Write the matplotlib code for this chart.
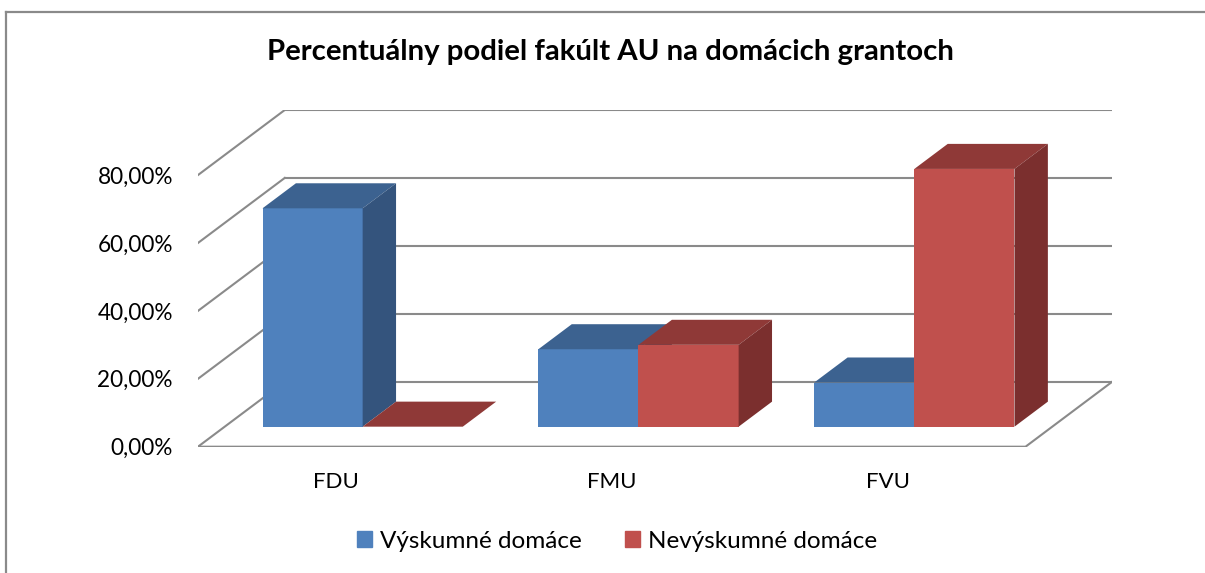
import matplotlib.pyplot as plt
from matplotlib.patches import Polygon, Patch
from matplotlib.lines import Line2D

plt.rcParams['font.family'] = ['Lato', 'DejaVu Sans']

categories = ["FDU", "FMU", "FVU"]
vyskumne = [64.3, 22.8, 13.0]
nevyskumne = [0.0, 24.1, 75.9]
series_names = ["Výskumné domáce", "Nevýskumné domáce"]
y_ticks = [0, 20, 40, 60, 80]
y_tick_labels = ["0,00%", "20,00%", "40,00%", "60,00%", "80,00%"]
title = "Percentuálny podiel fakúlt AU na domácich grantoch"

# oblique "3D" look: shift for the full depth of the floor (x in category units, y in %)
DX, DY = 0.3145, 19.15
BAR_W = 0.363
BAR_FRONT = 0.308
BAR_DEPTH = 0.385
GRID = "#8a8a8a"

colors = [
    ("#4F81BD", "#3C6290", "#34547D"),
    ("#C0504D", "#8F3937", "#7B2F2E"),
]


def main():
    fig = plt.figure(figsize=(12.05, 5.73), dpi=100)
    ax = fig.add_axes([198 / 1205, 1 - 446.7 / 573, 914.3 / 1205, 336.7 / 573])
    n = len(categories)
    x_left, x_right = -0.5, n - 0.5
    ax.set_xlim(x_left, x_right + DX)
    ax.set_ylim(0, y_ticks[-1] + DY)

    # walls and floor
    for v in y_ticks:
        ax.plot([x_left + DX, x_right + DX], [v + DY, v + DY], color=GRID, lw=1.5, zorder=1)
        ax.plot([x_left, x_left + DX], [v, v + DY], color=GRID, lw=1.5, zorder=1)
    ax.plot([x_left, x_right, x_right + DX], [0, 0, DY], color=GRID, lw=1.5, zorder=1)

    fx, fy = BAR_FRONT * DX, BAR_FRONT * DY
    ddx, ddy = BAR_DEPTH * DX, BAR_DEPTH * DY
    z = 2
    for i in range(n):
        for s, vals in enumerate([vyskumne, nevyskumne]):
            h = vals[i]
            x0 = i - BAR_W + s * BAR_W + fx
            x1 = x0 + BAR_W
            front, top, side = colors[s]
            ax.bar(x0, h, BAR_W, bottom=fy, align="edge", color=front, lw=0, zorder=z)
            ax.add_patch(Polygon([(x0, fy + h), (x1, fy + h), (x1 + ddx, fy + h + ddy),
                                  (x0 + ddx, fy + h + ddy)], closed=True, color=top, lw=0, zorder=z))
            ax.add_patch(Polygon([(x1, fy), (x1, fy + h), (x1 + ddx, fy + h + ddy),
                                  (x1 + ddx, fy + ddy)], closed=True, color=side, lw=0, zorder=z))
            z += 1

    for sp in ax.spines.values():
        sp.set_visible(False)
    ax.set_yticks(y_ticks)
    ax.set_yticklabels(y_tick_labels, fontsize=16.3)
    ax.set_xticks(range(n))
    ax.set_xticklabels(categories, fontsize=16)
    ax.tick_params(axis="y", length=0, pad=18)
    ax.tick_params(axis="x", length=0, pad=18)

    fig.text(610 / 1205, 1 - 52 / 573, title, ha="center", va="center",
             fontsize=21.2, fontweight="bold")

    handles = [Patch(color=colors[0][0]), Patch(color=colors[1][0])]
    fig.legend(handles, series_names, loc="center", bbox_to_anchor=(617 / 1205, 1 - 541 / 573),
               ncol=2, frameon=False, fontsize=17.5, handlelength=0.62, handleheight=0.62,
               handletextpad=0.33, columnspacing=1.75, borderpad=0)

    # chart border (left and top only visible)
    fig.add_artist(Line2D([6 / 1205, 6 / 1205], [0, 1 - 11.5 / 573], color="#8a8a8a", lw=1.6))
    fig.add_artist(Line2D([6 / 1205, 1], [1 - 11.5 / 573, 1 - 11.5 / 573], color="#8a8a8a", lw=1.6))

    fig.savefig("out.png", dpi=100)


if __name__ == "__main__":
    main()
